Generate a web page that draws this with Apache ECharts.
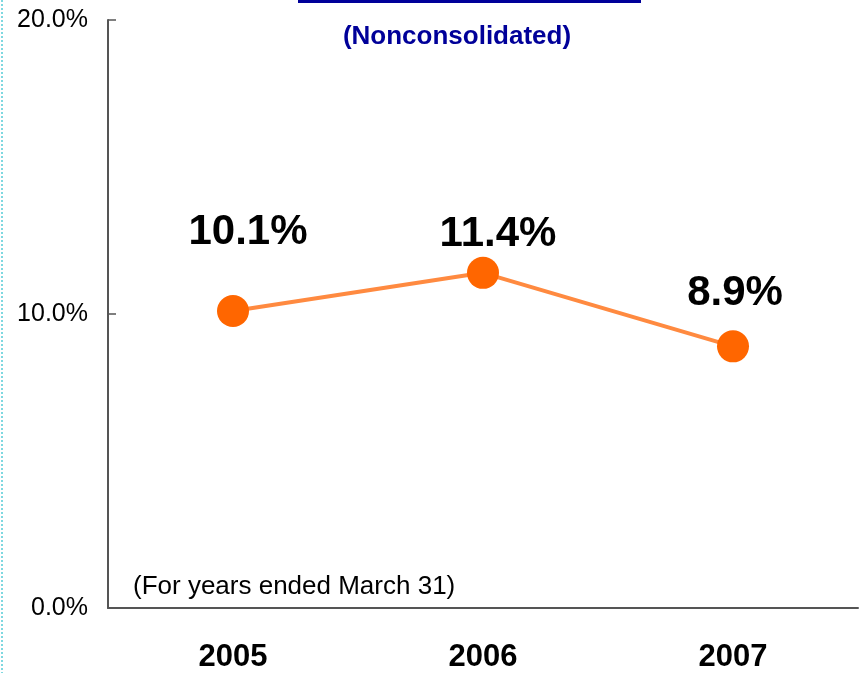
<!DOCTYPE html>
<html>
<head>
<meta charset="utf-8">
<script src="https://cdn.jsdelivr.net/npm/echarts@6/dist/echarts.min.js"></script>
<style>
  html, body { margin: 0; padding: 0; background: #fff; }
  #chart { width: 859px; height: 673px; }
</style>
</head>
<body>
<div id="chart"></div>
<script>
const years = ['2005', '2006', '2007']
const ratios = [10.1, 11.4, 8.9]
const labelOffsets = [[15, -79], [15, -38], [2, -53]]

const chart = echarts.init(document.getElementById('chart'))

const option = {
  backgroundColor: '#fff',
  animation: false,
  title: {
    text: '(Nonconsolidated)',
    left: 452,
    top: 19,
    textAlign: 'center',
    textStyle: { color: '#000099', fontWeight: 'bold', fontSize: 26, fontFamily: 'Liberation Sans, Arial' }
  },
  grid: { left: 108, right: 1, top: 20, bottom: 63, containLabel: false },
  xAxis: {
    type: 'category',
    data: years,
    boundaryGap: true,
    axisLine: { lineStyle: { color: '#555', width: 2 } },
    axisTick: { inside: true, length: 8, lineStyle: { color: '#555', width: 1.5 } },
    axisLabel: { margin: 34, color: '#000', fontWeight: 'bold', fontSize: 31, fontFamily: 'Liberation Sans, Arial' },
    splitLine: { show: false }
  },
  yAxis: {
    type: 'value',
    min: 0,
    max: 20,
    interval: 10,
    axisLine: { show: true, lineStyle: { color: '#555', width: 2 } },
    axisTick: { show: true, inside: true, length: 8, lineStyle: { color: '#555', width: 1.5 } },
    axisLabel: {
      margin: 20,
      color: '#000',
      fontSize: 25,
      fontFamily: 'Liberation Sans, Arial',
      padding: [4, 0, 0, 0],
      formatter: v => v.toFixed(1) + '%'
    },
    splitLine: { show: false }
  },
  series: [
    {
      type: 'line',
      data: ratios.map((v, i) => ({
        value: v,
        label: { offset: labelOffsets[i] }
      })),
      symbol: 'circle',
      symbolSize: 32,
      itemStyle: { color: '#FF6600' },
      lineStyle: { color: '#FF8A40', width: 4 },
      label: {
        show: true,
        position: 'inside',
        color: '#000',
        fontWeight: 'bold',
        fontSize: 42,
        fontFamily: 'Liberation Sans, Arial',
        formatter: p => p.value.toFixed(1) + '%'
      }
    }
  ],
  graphic: [
    { type: 'rect', shape: { x: 298, y: 0, width: 343, height: 3 }, style: { fill: '#000099' } },
    { type: 'line', shape: { x1: 2, y1: 0, x2: 2, y2: 673 }, style: { stroke: '#7fd8e0', lineWidth: 2, lineDash: [2, 2] } },
    {
      type: 'text',
      left: 133,
      top: 574,
      style: { text: '(For years ended March 31)', fill: '#000', fontSize: 26, fontFamily: 'Liberation Sans, Arial' }
    }
  ]
}

chart.setOption(option)
</script>
</body>
</html>
